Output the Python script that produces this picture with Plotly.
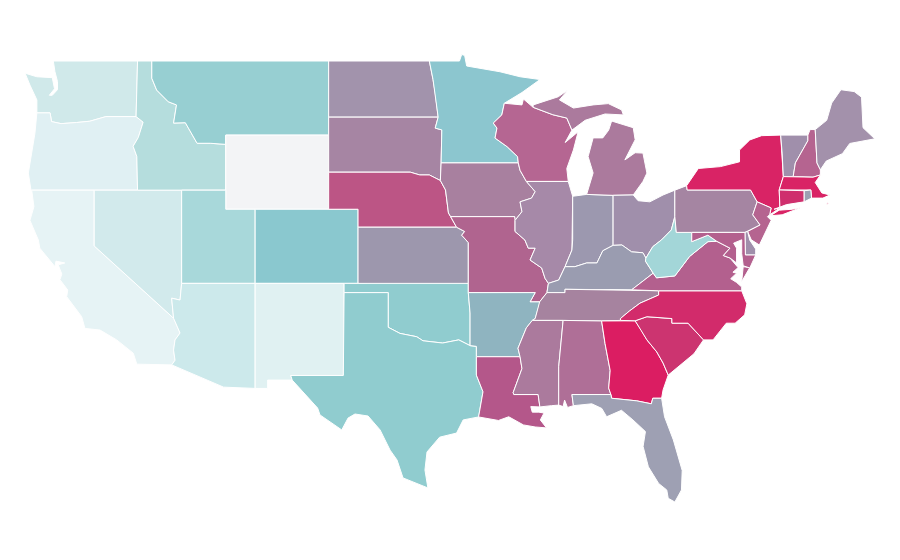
import plotly.graph_objects as go

#fill colour of each state
state_colors = {
    'WA':'#d0e9ea','OR':'#e0f0f3','CA':'#e6f3f5','NV':'#d2eaec','ID':'#b5dddd','MT':'#97cfd2','WY':'#f3f4f6',
    'UT':'#a8d8da','AZ':'#cce9eb','CO':'#8ac8cf','NM':'#e0f1f2','ND':'#a293ac','SD':'#a685a3','NE':'#bc5585',
    'KS':'#9d97ad','OK':'#90cccf','TX':'#90cccf','MN':'#8cc6cf','IA':'#a8809f','MO':'#b0648f','AR':'#8fb4c0',
    'LA':'#b4578a','WI':'#b56692','IL':'#a689a8','MI':'#ab7a9d','IN':'#9c98af','OH':'#a08fab','KY':'#9a9cb0',
    'TN':'#a6839f','MS':'#ab7a9d','AL':'#af6f97','GA':'#db1d62','FL':'#9ea0b3','SC':'#cc3470','NC':'#d22b6b',
    'VA':'#b3608e','WV':'#a3d6d8','PA':'#a585a2','NY':'#d92365','VT':'#a08fab','NH':'#b56490','ME':'#a391ab',
    'MA':'#d92365','CT':'#cf2f6d','RI':'#9ca0b2','NJ':'#b56490','DE':'#a08fab','MD':'#b3608e',
}

#shared borders, (lon, lat), so neighbours line up
or_wa = [(-123.9,46.2),(-123.0,46.2),(-122.9,45.73),(-122.25,45.62),(-121.2,45.68),(-120.3,45.75),(-119.2,46.0),(-117.15,46.0)]
id_or = [(-117.15,46.0),(-116.67,45.7),(-117.0,44.87),(-117.35,44.4),(-117.1,43.85),(-117.05,42.03)]
id_mt = [(-116.08,49.0),(-116.08,48.07),(-115.75,47.43),(-114.96,46.8),(-114.4,46.63),(-114.6,45.65),(-113.8,45.67),(-113.0,44.56),(-112.1,44.56),(-111.05,44.5)]
ca_nv = [(-120.0,42.03),(-120.0,39.02),(-114.6,35.12)]
ca_az = [(-114.6,35.12),(-114.16,34.32),(-114.5,33.95),(-114.6,33.4),(-114.5,32.85),(-114.73,32.6)]
nv_az = [(-114.6,35.12),(-114.73,36.2),(-114.16,36.1),(-114.05,37.0)]
nm_tx = [(-103.0,36.5),(-103.05,32.03),(-106.63,32.03)]
red_river = [(-94.43,33.64),(-95.2,33.95),(-96.3,33.78),(-97.63,33.9),(-98.06,34.12),(-99.2,34.3),(-100.0,34.63)]
ar_ok = [(-94.43,33.64),(-94.43,35.4),(-94.55,36.5)]
mo_ks = [(-94.55,36.5),(-94.55,39.2),(-95.0,39.6),(-94.8,39.8),(-95.35,40.03)]
ne_mo_ia = [(-95.35,40.03),(-95.75,40.6)]
ia_mo = [(-95.75,40.6),(-91.4,40.6),(-91.37,40.4)]
ne_ia = [(-96.45,42.55),(-96.1,42.04),(-95.9,40.8),(-95.75,40.6)]
ne_sd = [(-104.05,43.0),(-98.5,43.0),(-97.85,42.85),(-97.2,42.85),(-96.45,42.55)]
mn_dakota = [(-97.2,49.0),(-96.95,48.0),(-96.8,47.27),(-96.6,45.97),(-96.8,45.38),(-96.35,45.28),(-96.4,43.5)]
st_croix = [(-92.1,46.72),(-92.27,46.09),(-92.85,45.65),(-92.6,45.38),(-92.73,44.84),(-91.9,44.37),(-91.2,43.84),(-91.15,43.5)]
miss_wi_ia = [(-91.15,43.5),(-91.03,43.1),(-90.6,42.5)]
miss_il_ia = [(-90.6,42.5),(-90.0,41.95),(-90.25,41.6),(-91.03,41.4),(-90.9,40.87),(-91.37,40.4)]
miss_il_mo = [(-91.37,40.4),(-91.37,39.8),(-90.7,39.34),(-90.47,38.9),(-90.0,38.9),(-90.35,38.26),(-89.56,37.83),(-89.33,37.27),(-89.1,37.0)]
miss_ky_mo = [(-89.1,37.0),(-89.2,36.5)]
miss_tn_mo = [(-89.2,36.5),(-89.7,36.0)]
miss_tn_ar = [(-89.7,36.0),(-89.7,35.9),(-90.0,35.1),(-90.2,35.0)]
miss_ms_ar = [(-90.2,35.0),(-90.6,34.6),(-91.03,33.77),(-91.17,33.5),(-91.03,33.04)]
miss_ms_la = [(-91.03,33.04),(-90.9,32.4),(-91.5,31.1),(-91.45,31.0)]
la_tx = [(-93.85,29.79),(-93.55,31.15),(-94.0,32.05),(-94.0,33.04)]
ohio_il_ky = [(-89.1,37.0),(-88.4,37.18),(-87.97,37.9)]
ohio_in_ky = [(-87.97,37.9),(-87.3,37.9),(-86.5,38.1),(-85.8,38.1),(-85.4,38.76),(-84.7,39.05)]
ohio_oh_ky = [(-84.7,39.05),(-84.1,39.07),(-83.44,38.7),(-82.67,38.65),(-82.47,38.36)]
ohio_oh_wv = [(-82.47,38.36),(-82.0,38.98),(-81.4,39.35),(-80.74,39.88),(-80.5,40.6)]
wabash = [(-87.97,37.9),(-87.5,38.8),(-87.45,39.35),(-87.45,41.7)]
ky_wv = [(-82.47,38.36),(-82.5,38.2),(-81.97,37.55)]
ky_va = [(-81.97,37.55),(-83.44,36.65)]
ky_tn = [(-83.44,36.65),(-87.97,36.68),(-87.97,36.5),(-89.2,36.5)]
tn_nc = [(-81.6,36.6),(-81.6,36.37),(-82.87,35.93),(-83.6,35.5),(-84.2,35.1),(-84.2,35.0)]
tn_south = [(-84.2,35.0),(-85.48,34.97),(-88.1,35.0),(-90.2,35.0)]
nc_sc = [(-83.2,34.98),(-82.4,35.2),(-80.7,35.1),(-80.7,34.85),(-79.6,34.85),(-78.55,33.95)]
sc_ga = [(-83.2,34.98),(-82.8,34.5),(-82.4,33.95),(-81.73,33.3),(-81.3,32.7),(-80.95,32.05)]
ga_fl = [(-81.4,30.8),(-82.0,30.8),(-82.1,30.5),(-83.1,30.66),(-84.8,30.8),(-84.85,31.0)]
al_ga = [(-85.48,34.97),(-85.25,33.76),(-84.9,32.3),(-85.0,31.35),(-84.85,31.0)]
al_fl = [(-84.85,31.0),(-87.5,31.0),(-87.4,30.4)]
al_ms = [(-88.1,35.0),(-88.4,32.5),(-88.4,30.43)]
wi_up = [(-90.14,46.5),(-88.8,46.1),(-87.85,45.92),(-87.5,45.27)]
pa_ny = [(-79.66,42.04),(-75.35,42.04),(-74.9,41.4)]
pa_nj = [(-74.9,41.4),(-75.2,40.7),(-74.7,40.15),(-75.55,39.8)]
ny_nj = [(-74.9,41.4),(-73.95,41.07),(-74.05,40.7)]
mason_dixon = [(-80.4,39.75),(-79.35,39.75),(-75.73,39.75)]
wv_md = [(-79.35,39.75),(-79.35,39.25),(-78.25,39.6),(-77.65,39.27)]
wv_va = [(-77.65,39.27),(-78.25,39.25),(-79.5,38.45),(-80.5,37.4),(-81.75,37.3),(-81.97,37.55)]
potomac = [(-77.65,39.27),(-76.75,38.9),(-77.2,38.5),(-76.75,38.37),(-76.2,37.85)]
ny_east = [(-73.3,45.0),(-73.2,44.03),(-73.12,42.76),(-73.4,42.04),(-73.35,41.07)]
vt_nh = [(-71.45,45.0),(-71.45,44.7),(-72.3,43.5),(-72.45,42.76)]
ma_north = [(-73.12,42.76),(-72.45,42.76),(-71.1,42.73),(-70.6,42.85)]
nh_me = [(-71.3,45.3),(-70.95,45.3),(-70.83,43.5),(-70.6,43.13)]

outlines = {
    'WA': [[(-124.7,48.34),(-123.9,48.15),(-122.85,48.1),(-122.7,47.5),(-123.05,47.15),(-122.85,47.15),(-122.5,47.45),(-122.5,47.9),(-122.67,48.42),(-122.78,49.0),(-117.05,49.0),(-117.15,46.0)] + or_wa[::-1] + [(-123.9,46.9),(-124.37,47.7)]],
    'OR': [or_wa + id_or + [(-124.3,42.03),(-124.48,42.95),(-124.03,45.1)]],
    'CA': [[(-124.25,42.03)] + ca_nv + ca_az + [(-117.1,32.64),(-117.34,33.23),(-118.47,33.95),(-119.6,34.48),(-120.63,34.57),(-120.85,35.2),(-121.87,36.28),(-121.8,36.64),(-122.33,37.2),(-122.2,37.5),(-122.45,38.0),(-122.0,38.1),(-122.6,38.2),(-122.67,37.9),(-123.7,38.9),(-123.8,39.34),(-124.37,40.4),(-124.1,41.14)]],
    'NV': [[(-120.0,42.03),(-114.05,42.03),(-114.05,37.0)] + nv_az[::-1] + ca_nv[::-1][:2]],
    'ID': [[(-117.05,49.0)] + id_mt + [(-111.05,42.03),(-117.05,42.03)] + id_or[::-1]],
    'MT': [id_mt[:1] + [(-104.05,49.0),(-104.05,45.0),(-111.05,45.0)] + id_mt[::-1][:-1]],
    'WY': [[(-111.05,45.0),(-104.05,45.0),(-104.05,41.0),(-111.05,41.0)]],
    'UT': [[(-114.05,42.03),(-111.05,42.03),(-111.05,41.0),(-109.05,41.0),(-109.05,37.0),(-114.05,37.0)]],
    'AZ': [[(-109.05,37.0),(-109.05,31.33),(-111.2,31.4),(-114.73,32.6)] + ca_az[::-1] + nv_az[1:]],
    'CO': [[(-109.05,41.0),(-102.05,41.0),(-102.05,37.0),(-109.05,37.0)]],
    'NM': [[(-109.05,37.0),(-103.0,37.0)] + nm_tx + [(-106.53,31.78),(-108.2,31.78),(-108.2,31.33),(-109.05,31.33)]],
    'ND': [[(-104.05,49.0)] + mn_dakota[:4] + [(-104.05,45.97)]],
    'SD': [[(-104.05,45.97)] + mn_dakota[3:] + [(-96.45,42.55)] + ne_sd[::-1][1:]],
    'NE': [ne_sd + ne_ia[1:] + [(-95.35,40.03),(-102.05,40.03),(-102.05,41.0),(-104.05,41.0)]],
    'KS': [[(-102.05,40.03),(-95.35,40.03)] + mo_ks[::-1][1:] + [(-102.05,37.0)]],
    'OK': [[(-103.0,37.0),(-94.55,37.0)] + ar_ok[::-1] + red_river + [(-100.0,36.5),(-103.0,36.5)]],
    'TX': [[(-103.0,36.5),(-100.0,36.5)] + red_river[::-1] + [(-94.0,33.6)] + la_tx[::-1] + [(-94.9,29.63),(-95.35,28.92),(-96.5,28.7),(-97.36,27.9),(-97.5,26.93),(-97.3,25.96),(-98.99,26.5),(-99.4,27.47),(-99.87,28.0),(-100.55,29.09),(-101.37,29.84),(-102.26,29.95),(-102.73,29.73),(-103.16,29.09),(-104.64,29.9),(-104.8,30.27),(-106.53,31.78),(-106.63,32.03),(-103.05,32.03)]],
    'MN': [[(-97.2,49.0),(-95.15,49.0),(-95.0,49.35),(-94.8,49.3),(-94.66,48.73),(-93.5,48.55),(-92.4,48.42),(-91.03,48.15),(-89.67,48.0),(-90.9,47.3)] + st_croix + mn_dakota[::-1][:-1]],
    'IA': [[(-96.4,43.5)] + miss_wi_ia + miss_il_ia + ia_mo[::-1] + ne_ia[::-1]],
    'MO': [mo_ks + ne_mo_ia[1:] + ia_mo[1:] + miss_il_mo[1:] + miss_ky_mo[1:] + miss_tn_mo[1:] + [(-90.35,36.0),(-90.0,36.5)]],
    'AR': [[(-94.55,36.5),(-90.0,36.5),(-90.35,36.0)] + miss_tn_ar + miss_ms_ar[1:] + [(-94.0,33.04),(-94.0,33.6)] + ar_ok],
    'LA': [[(-94.0,33.04)] + miss_ms_la + [(-89.8,31.0),(-89.68,30.33),(-90.3,30.35),(-90.2,30.05),(-89.75,30.05),(-89.4,30.0),(-89.65,29.63),(-89.23,29.2),(-90.0,29.25),(-90.8,29.36),(-91.8,29.8),(-92.5,29.6)] + la_tx],
    'WI': [st_croix + miss_wi_ia[1:] + [(-87.75,42.5),(-87.85,43.2),(-87.4,44.2),(-87.08,45.18),(-87.96,44.6)] + wi_up[::-1] + [(-90.8,46.95),(-90.9,46.63)]],
    'IL': [[(-90.6,42.5),(-87.75,42.5),(-87.45,41.7)] + wabash[::-1][1:] + ohio_il_ky[::-1][1:] + miss_il_mo[::-1][1:] + miss_il_ia[::-1][1:]],
    'IN': [[(-87.45,41.7),(-86.5,41.8),(-84.7,41.75)] + ohio_in_ky[::-1] + wabash[1:]],
    'MI': [wi_up + [(-86.6,45.8),(-85.25,46.14),(-84.0,46.09),(-84.12,46.36),(-85.03,46.7),(-86.06,46.63),(-87.4,46.46),(-88.35,46.9),(-87.77,47.44),(-88.43,47.07),(-90.14,46.63)],
           [(-86.5,41.8),(-84.7,41.75),(-83.33,41.77),(-82.67,42.5),(-82.4,42.95),(-82.67,44.03),(-83.2,44.05),(-83.9,43.66),(-83.2,44.75),(-83.33,45.4),(-84.8,45.76),(-85.0,45.27),(-85.4,44.85),(-86.06,44.85),(-86.4,43.84),(-86.06,42.96)],
           [(-89.2,47.9),(-88.5,48.1),(-88.9,47.95)]],
    'OH': [[(-84.7,41.75),(-83.33,41.77),(-83.0,41.46),(-82.2,41.4),(-81.3,41.77),(-80.5,42.03)] + ohio_oh_wv[::-1] + ohio_oh_ky[::-1][1:] ],
    'KY': [ohio_il_ky + ohio_in_ky[1:] + ohio_oh_ky[1:] + ky_wv[1:] + ky_va[1:] + ky_tn[1:]],
    'TN': [ky_tn[::-1] + [(-81.6,36.6)] + tn_nc[1:] + tn_south[1:] + miss_tn_ar[::-1][1:] + miss_tn_mo[::-1][1:]],
    'MS': [[(-88.1,35.0),(-90.2,35.0)] + miss_ms_ar[1:] + miss_ms_la[1:] + [(-89.8,31.0),(-89.68,30.33),(-88.9,30.4)] + al_ms[::-1][:-1]],
    'AL': [al_ga + al_fl[1:] + [(-87.8,30.3),(-88.0,30.7),(-88.1,30.35),(-88.4,30.43)] + al_ms[::-1][1:]],
    'GA': [[(-85.48,34.97)] + sc_ga + [(-81.3,31.25)] + ga_fl + al_ga[::-1][1:]],
    'FL': [ga_fl + al_fl[1:] + [(-86.15,30.5),(-85.47,30.25),(-85.14,29.8),(-84.13,30.15),(-83.35,29.63),(-82.5,29.0),(-82.66,28.2),(-82.3,27.1),(-81.6,26.2),(-81.05,25.85),(-80.95,25.4),(-80.5,25.2),(-80.05,25.85),(-80.0,26.9),(-80.6,28.55),(-81.2,29.8)]],
    'SC': [nc_sc + [(-79.2,33.2),(-79.8,32.8)] + sc_ga[::-1]],
    'NC': [[(-81.6,36.6),(-75.95,36.6),(-75.6,35.9),(-75.75,35.3),(-76.4,34.85),(-77.0,34.85),(-77.9,33.95)] + nc_sc[::-1] + [(-84.2,35.0)] + tn_nc[::-1][1:]],
    'VA': [ky_va[::-1] + wv_va[::-1][1:] + potomac[1:] + [(-76.55,37.6),(-76.3,37.55),(-76.7,37.25),(-76.3,37.05),(-75.95,36.8),(-75.95,36.6),(-81.6,36.6)],
           [(-75.95,37.1),(-75.85,37.9),(-75.4,37.85)]],
    'WV': [ohio_oh_wv + [(-80.4,39.75),(-79.35,39.75)] + wv_md[1:] + wv_va[1:] + ky_wv[::-1][1:-1]],
    'PA': [[(-80.5,42.03),(-79.7,42.27)] + pa_ny + pa_nj[1:] + [(-75.73,39.75),(-79.35,39.75),(-80.4,39.75),(-80.5,40.6)]],
    'NY': [[(-79.66,42.04),(-79.7,42.27),(-78.9,43.2),(-77.4,43.3),(-76.1,43.56),(-76.1,44.2),(-75.4,44.74),(-74.6,44.97)] + ny_east + ny_nj[::-1] + pa_ny[::-1][1:]],
    'LI': [[(-74.0,40.65),(-73.4,40.95),(-72.5,41.0),(-71.9,41.1),(-73.2,40.7)]],
    'VT': [[(-73.3,45.0)] + vt_nh + ma_north[:2][::-1] + ny_east[:3][::-1][:-1]],
    'NH': [[(-71.45,45.0)] + nh_me + [(-70.6,42.85),(-71.1,42.73),(-72.45,42.76)] + vt_nh[::-1][1:]],
    'ME': [[(-70.95,45.3),(-70.17,45.8),(-69.83,46.73),(-69.2,47.45),(-68.3,47.35),(-67.8,47.05),(-67.7,45.4),(-66.9,44.8),(-68.6,44.55),(-69.1,44.0),(-70.2,43.6),(-70.6,43.13),(-70.83,43.5)]],
    'MA': [ma_north[:1] + ma_north[1:] + [(-70.95,42.44),(-70.5,41.88),(-69.95,41.77),(-70.43,41.6),(-71.2,41.6),(-71.25,42.04),(-73.4,42.04)],
           [(-70.2,41.25),(-70.0,41.3),(-70.1,41.35)]],
    'CT': [[(-73.4,42.04),(-71.7,42.0),(-71.7,41.4),(-72.9,41.25),(-73.75,41.0),(-73.35,41.07)]],
    'RI': [[(-71.7,42.0),(-71.25,42.04),(-71.2,41.6),(-71.7,41.4)]],
    'NJ': [ny_nj + [(-74.2,40.6),(-73.95,40.4),(-74.75,39.07),(-75.3,39.35)] + pa_nj[::-1][:-1]],
    'DE': [[(-75.73,39.75),(-75.55,39.8),(-75.4,39.33),(-75.0,38.85),(-75.0,38.53),(-75.7,38.53)]],
    'MD': [mason_dixon[1:] + [(-75.7,38.53),(-75.0,38.53),(-75.4,37.83),(-75.85,37.95),(-75.95,38.6),(-75.95,39.35),(-76.5,39.17),(-76.3,38.9),(-76.3,38.1)] + potomac[::-1][1:] + wv_md[::-1][1:]],
}

fig = go.Figure()
for state, rings in outlines.items():
    #one trace per state, rings split by None so plotly fills them separately
    lons, lats = [], []
    for r in rings:
        lons += [p[0] for p in r] + [r[0][0], None]
        lats += [p[1] for p in r] + [r[0][1], None]
    color = state_colors['NY'] if state == 'LI' else state_colors[state]
    fig.add_trace(go.Scatter(x=lons, y=lats, mode='lines', fill='toself', name=state,
        fillcolor=color, line=dict(color='white', width=1), hoveron='fills', showlegend=False))

#map is stretched, lon and lat are both linear in the reference
fig.update_xaxes(range=[-125.863,-64.639], visible=False, fixedrange=True)
fig.update_yaxes(range=[21.639,51.860], visible=False, fixedrange=True)
fig.update_layout(width=900, height=560, margin=dict(l=0,r=0,t=0,b=0), paper_bgcolor='white', plot_bgcolor='white')
fig.write_html("out.html")
